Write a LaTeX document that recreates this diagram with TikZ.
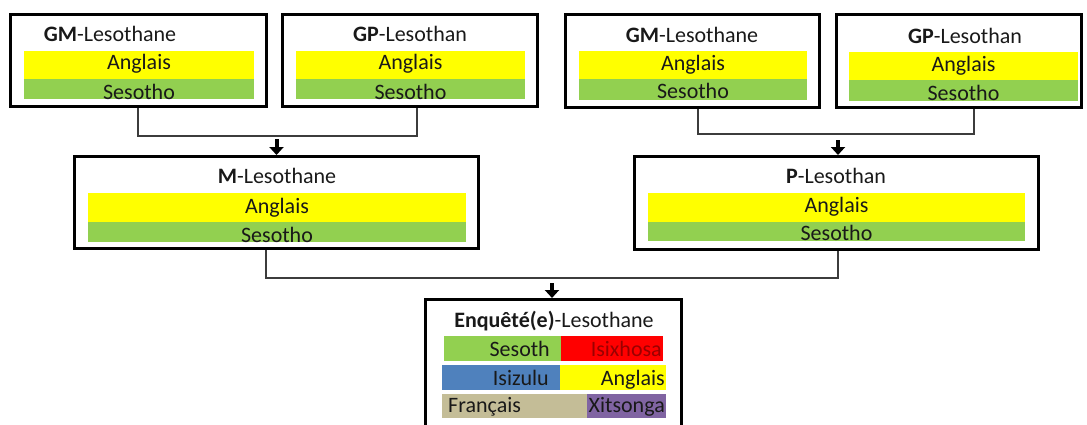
\documentclass[tikz,border=0pt]{standalone}
\usepackage{fontspec}
\setmainfont{Carlito}
\usetikzlibrary{arrows.meta}
\definecolor{barYellow}{HTML}{FFFF00}
\definecolor{barGreen}{HTML}{92D050}
\definecolor{barRed}{HTML}{FF0000}
\definecolor{barBlue}{HTML}{4F81BD}
\definecolor{barTan}{HTML}{C4BD97}
\definecolor{barPurple}{HTML}{8064A2}
\definecolor{redText}{HTML}{9A0000}
\definecolor{linkGray}{HTML}{3C3C3C}
\tikzset{
  box/.style={draw=black, line width=3pt, inner sep=0pt},
  bar/.style={inner sep=0pt, outer sep=0pt},
  lbl/.style={inner sep=0pt, anchor=base, text=black!90, font=\fontsize{22}{26}\selectfont},
  link/.style={draw=linkGray, line width=1.2pt},
  push/.style={line width=4pt, -{Triangle[width=14pt,length=8pt]}}
}

\begin{document}
\begin{tikzpicture}[x=1pt,y=-1pt]
\useasboundingbox (0,0) rectangle (1087,424);
\node[box, minimum width=256pt, minimum height=92pt] (gma) at (138,60.5) {};
\node[box, minimum width=255pt, minimum height=92pt] (gpa) at (410,60.5) {};
\node[box, minimum width=254pt, minimum height=93pt] (gmb) at (692.5,61) {};
\node[box, minimum width=245pt, minimum height=93pt] (gpb) at (959,61) {};
\node[box, minimum width=404pt, minimum height=92pt] (m) at (276.5,202.5) {};
\node[box, minimum width=404pt, minimum height=93pt] (p) at (836.5,203) {};
\node[box, minimum width=256pt, minimum height=140pt] (e) at (553.5,369.5) {};

\node[bar, fill=barYellow, minimum width=230pt, minimum height=28pt] (gmaY) at (139,65) {};
\node[bar, fill=barGreen, minimum width=230pt, minimum height=20pt] (gmaG) at (139,89) {};
\node[lbl] (gmaT) at (110,41) {\textbf{GM}-Lesothane};
\node[lbl] (gmaA) at (139,69.5) {Anglais};
\node[lbl] (gmaS) at (139,99) {Sesotho};

\node[bar, fill=barYellow, minimum width=229pt, minimum height=28pt] (gpaY) at (410.5,65) {};
\node[bar, fill=barGreen, minimum width=229pt, minimum height=20pt] (gpaG) at (410.5,89) {};
\node[lbl] (gpaT) at (410,41) {\textbf{GP}-Lesothan};
\node[lbl] (gpaA) at (410.5,69.5) {Anglais};
\node[lbl] (gpaS) at (410.5,99) {Sesotho};

\node[bar, fill=barYellow, minimum width=228pt, minimum height=28pt] (gmbY) at (693,65) {};
\node[bar, fill=barGreen, minimum width=228pt, minimum height=21pt] (gmbG) at (693,89.5) {};
\node[lbl] (gmbT) at (692,42) {\textbf{GM}-Lesothane};
\node[lbl] (gmbA) at (693,70.5) {Anglais};
\node[lbl] (gmbS) at (693,98.5) {Sesotho};

\node[bar, fill=barYellow, minimum width=229pt, minimum height=28pt] (gpbY) at (963.5,66) {};
\node[bar, fill=barGreen, minimum width=229pt, minimum height=21pt] (gpbG) at (963.5,90.5) {};
\node[lbl] (gpbT) at (965,43) {\textbf{GP}-Lesothan};
\node[lbl] (gpbA) at (963.5,71) {Anglais};
\node[lbl] (gpbS) at (963.5,100) {Sesotho};

\node[bar, fill=barYellow, minimum width=378pt, minimum height=29pt] (mY) at (277,207.5) {};
\node[bar, fill=barGreen, minimum width=378pt, minimum height=20pt] (mG) at (277,232) {};
\node[lbl] (mT) at (277,183) {\textbf{M}-Lesothane};
\node[lbl] (mA) at (277,213) {Anglais};
\node[lbl] (mS) at (277,242) {Sesotho};

\node[bar, fill=barYellow, minimum width=377pt, minimum height=29pt] (pY) at (836.5,207.5) {};
\node[bar, fill=barGreen, minimum width=377pt, minimum height=19pt] (pG) at (836.5,231.5) {};
\node[lbl] (pT) at (836,183) {\textbf{P}-Lesothan};
\node[lbl] (pA) at (836.5,212.5) {Anglais};
\node[lbl] (pS) at (836.5,240.5) {Sesotho};

\node[lbl] (eT) at (554,327) {\textbf{Enquêté(e)}-Lesothane};
\node[bar, fill=barGreen, minimum width=117pt, minimum height=25pt] (e11) at (502.5,348.5) {};
\node[bar, fill=barRed, minimum width=102pt, minimum height=25pt] (e12) at (612,348.5) {};
\node[bar, fill=barBlue, minimum width=118pt, minimum height=25pt] (e21) at (501,377.5) {};
\node[bar, fill=barYellow, minimum width=106pt, minimum height=25pt] (e22) at (613,377.5) {};
\node[bar, fill=barTan, minimum width=145pt, minimum height=24pt] (e31) at (514.5,406) {};
\node[bar, fill=barPurple, minimum width=79pt, minimum height=24pt] (e32) at (626.5,406) {};
\node[lbl, anchor=base east] (e11t) at (550,356) {Sesoth};
\node[lbl, anchor=base east, text=redText] (e12t) at (662,356) {Isixhosa};
\node[lbl, anchor=base east] (e21t) at (549,385) {Isizulu};
\node[lbl, anchor=base east] (e22t) at (665,385) {Anglais};
\node[lbl, anchor=base west] (e31t) at (448,412) {Français};
\node[lbl, anchor=base east] (e32t) at (665,412) {Xitsonga};

\coordinate (ja) at (417,136);
\draw[link] (gma.south) |- (ja) -- (ja |- gpa.south);
\coordinate (aa) at (276.5,139);
\draw[push] (aa) -- (m.north);

\coordinate (jb1) at (698,134);
\coordinate (jb2) at (974,134);
\draw[link] (gmb.south -| jb1) -- (jb1) -- (jb2) -- (gpb.south -| jb2);
\coordinate (ab) at (838,140);
\draw[push] (ab) -- (ab |- p.north);

\coordinate (jc1) at (266,278);
\coordinate (jc2) at (838,278);
\draw[link] (m.south -| jc1) -- (jc1) -- (jc2) -- (p.south -| jc2);
\coordinate (ac) at (552,283);
\draw[push] (ac) -- (ac |- e.north);
\end{tikzpicture}
\end{document}
